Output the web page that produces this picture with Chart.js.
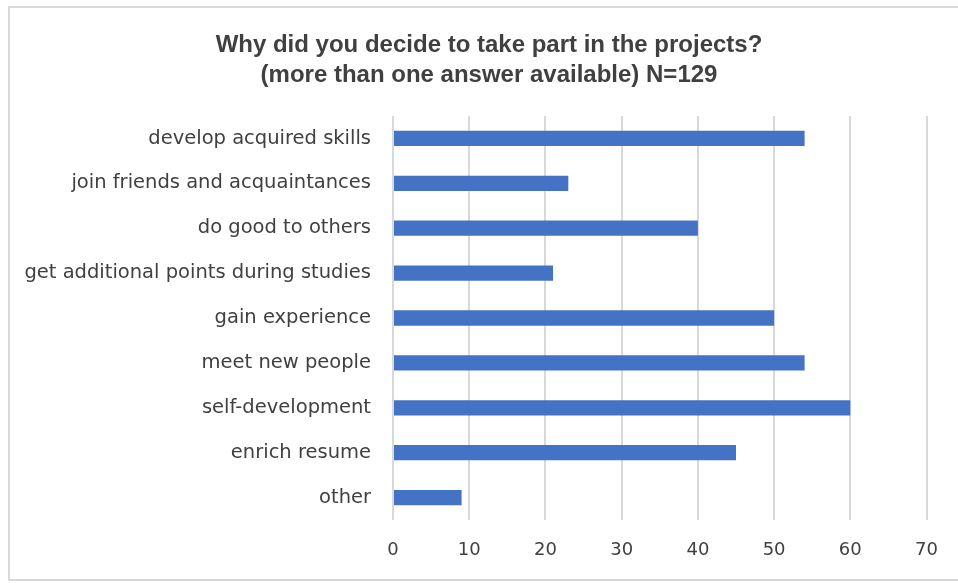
<!DOCTYPE html>
<html>
<head>
<meta charset="utf-8">
<script src="https://cdn.jsdelivr.net/npm/chart.js@4/dist/chart.umd.min.js"></script>
<style>
  html, body { margin: 0; padding: 0; background: #ffffff; overflow: hidden; }
  #wrap { position: relative; width: 958px; height: 583px; }
  #frame { position: absolute; left: 8px; top: 6px; width: 1000px; height: 575px; border: 2px solid #d9d9d9; box-sizing: border-box; }
  canvas { position: absolute; left: 0; top: 0; }
</style>
</head>
<body>
<div id="wrap">
  <div id="frame"></div>
  <canvas id="c" width="958" height="583"></canvas>
</div>
<script>
const titleLines = ["Why did you decide to take part in the projects?", "(more than one answer available) N=129"];
const categories = [
  "develop acquired skills",
  "join friends and acquaintances",
  "do good to others",
  "get additional points during studies",
  "gain experience",
  "meet new people",
  "self-development",
  "enrich resume",
  "other"
];
const responses = [54, 23, 40, 21, 50, 54, 60, 45, 9];
const xTicks = [0, 10, 20, 30, 40, 50, 60, 70];

new Chart(document.getElementById('c'), {
  type: 'bar',
  data: {
    labels: categories,
    datasets: [{
      data: responses,
      backgroundColor: '#4472C4',
      borderWidth: 0,
      categoryPercentage: 1.0,
      barPercentage: 0.34
    }]
  },
  options: {
    indexAxis: 'y',
    responsive: false,
    animation: false,
    devicePixelRatio: 1,
    layout: { padding: { left: 20, right: 0, top: 0, bottom: 0 } },
    plugins: {
      legend: { display: false },
      tooltip: { enabled: false },
      title: {
        display: true,
        text: titleLines,
        color: '#404040',
        font: { family: 'Liberation Sans, Arial', size: 24, weight: 'bold', lineHeight: 1.25 },
        padding: { top: 30, bottom: 26 }
      }
    },
    scales: {
      x: {
        min: 0,
        max: 70,
        afterBuildTicks: (s) => { s.ticks = xTicks.map(v => ({ value: v })); },
        afterFit: (s) => { s.height = 63; },
        grid: { color: '#d9d9d9', lineWidth: 2, drawTicks: false },
        border: { display: false },
        ticks: { color: '#404040', padding: 20, font: { family: 'DejaVu Sans', size: 18 } }
      },
      y: {
        afterFit: (s) => { s.width = 373; },
        grid: { display: false, drawTicks: false },
        border: { display: false },
        ticks: { color: '#404040', padding: 22, font: { family: 'DejaVu Sans', size: 19.5 } }
      },
      yRight: {
        type: 'category',
        position: 'right',
        display: true,
        afterFit: (s) => { s.width = 28; },
        grid: { display: false, drawTicks: false },
        border: { display: false },
        ticks: { display: false }
      }
    }
  }
});
</script>
</body>
</html>
